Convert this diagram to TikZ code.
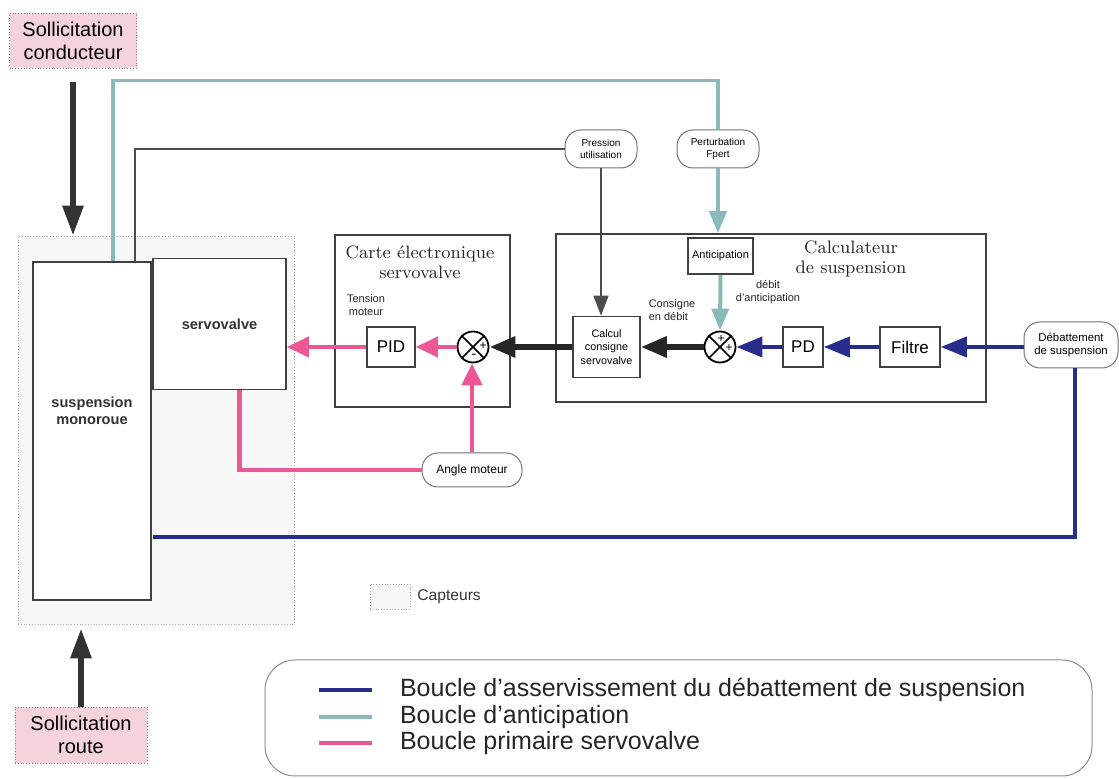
\documentclass[tikz,border=0pt]{standalone}
\usepackage{fontspec}
\setsansfont{Liberation Sans}
\renewcommand{\familydefault}{\sfdefault}
\usepackage{tikz}
\usetikzlibrary{arrows.meta}
\usepackage[dvipsnames]{xcolor}
\definecolor{boucle}{RGB}{40,44,138}
\definecolor{primaire}{RGB}{236,88,150}
\definecolor{antic}{RGB}{138,186,184}
\definecolor{sollic}{RGB}{244,212,218}

\begin{document}
\begin{tikzpicture}[x=0.5pt,y=-0.5pt]
  \tikzstyle{block}=[draw=black!75,line width=0.8pt,fill=white,inner sep=0pt,align=center]
  \tikzstyle{card box}=[draw=black!75,line width=0.8pt,inner sep=0pt]
  \tikzstyle{capsule}=[draw=black!55,line width=0.5pt,fill=white,rounded corners=8pt,inner sep=0pt,align=center,font=\fontsize{5}{6}\selectfont]
  \tikzstyle{sum node}=[circle,draw=black,line width=0.9pt,fill=white,minimum size=15.5pt,inner sep=0pt]
  \tikzset{
sollic box/.style={draw=black!50,densely dotted,fill=sollic,inner sep=0pt,align=center,font=\fontsize{10}{11.5}\selectfont},
capteur zone/.style={draw=black!35,densely dotted,fill=black!3,inner sep=0pt},
small text/.style={font=\fontsize{5.5}{6.5}\selectfont,align=center,text=black!85},
title text/.style={font=\rmfamily\fontsize{9}{10}\selectfont,align=center,text=black!85},
big arrow/.style={draw=black!80,line width=3pt,-{Triangle[length=15pt,width=10pt]}},
pink line/.style={draw=primaire,line width=2.2pt},
pink arrow/.style={pink line,-{Triangle[length=11pt,width=10pt]}},
blue line/.style={draw=boucle,line width=2pt},
blue arrow/.style={blue line,-{Triangle[length=13pt,width=10pt]}},
black arrow/.style={draw=black!85,line width=3pt,-{Triangle[length=13pt,width=10pt]}},
antic line/.style={draw=antic,line width=1.6pt},
antic arrow/.style={draw=antic,line width=2pt,-{Triangle[length=11pt,width=8.5pt]}},
thin line/.style={draw=black!70,line width=0.7pt},
thin arrow/.style={thin line,-{Triangle[length=10pt,width=7.5pt]}}
}
  \useasboundingbox (0,0) rectangle (1119,779);

  % sensors zone and mechanical part
  \node[capteur zone,minimum width=138pt,minimum height=194pt](capt) at (156,430) {};
  \node[block,minimum width=59pt,minimum height=169pt](susp) at (92,431) {};
  \node[font=\bfseries\fontsize{7.3}{8.5}\selectfont,align=center,text=black!80](susptxt) at (92,411) {suspension\\monoroue};
  \node[block,minimum width=66.5pt,minimum height=65.5pt,font=\bfseries\fontsize{7.3}{8.5}\selectfont,text=black!80](servo) at (219.5,324) {servovalve};

  \node[sollic box,minimum width=63.5pt,minimum height=27.5pt](soll1) at (73,40.5) {Sollicitation\\conducteur};
  \node[sollic box,minimum width=66pt,minimum height=28pt](soll2) at (81,735) {Sollicitation\\route};

  % servovalve board
  \node[card box,minimum width=87.5pt,minimum height=86pt](carte) at (422.5,321) {};
  \node[title text](cartetitle) at (420,262) {Carte électronique\\servovalve};
  \node[small text](tension) at (366,305) {Tension\\moteur};
  \node[block,minimum width=24pt,minimum height=20pt,font=\fontsize{8.5}{10}\selectfont](pid) at (391,347) {PID};
  \node[sum node](sum1) at (473,347) {};
  \node[capsule,minimum width=50pt,minimum height=17pt,font=\fontsize{6}{7}\selectfont](angle) at (472,470) {Angle moteur};

  % suspension computer
  \node[card box,minimum width=215pt,minimum height=84pt](calcfr) at (771,318) {};
  \node[title text](calctitle) at (851,259) {Calculateur\\de suspension};
  \node[block,minimum width=33.5pt,minimum height=30.5pt,font=\fontsize{5.4}{6.6}\selectfont](calc) at (606.5,347) {Calcul\\consigne\\servovalve};
  \node[small text,align=left](consigne) at (672,310) {Consigne\\en débit};
  \node[sum node](sum2) at (720,347) {};
  \node[block,minimum width=32.5pt,minimum height=18pt,font=\fontsize{5.5}{6.5}\selectfont](antic) at (720.5,256) {Anticipation};
  \node[small text](debit) at (768,292) {débit\\d'anticipation};
  \node[block,minimum width=20pt,minimum height=20pt,font=\fontsize{8.5}{10}\selectfont](pd) at (803,347) {PD};
  \node[block,minimum width=30pt,minimum height=20pt,font=\fontsize{8.5}{10}\selectfont](filtre) at (910,347) {Filtre};

  \node[capsule,minimum width=47pt,minimum height=23pt,font=\fontsize{5.7}{6.8}\selectfont](debat) at (1071,345) {Débattement\\de suspension};
  \node[capsule,minimum width=36pt,minimum height=19pt](pression) at (601,149) {Pression\\utilisation};
  \node[capsule,minimum width=41pt,minimum height=19pt](perturb) at (718,149) {Perturbation\\Fpert};

  % crosses and signs of the comparators
  \foreach \s in {sum1,sum2}{
    \draw[line width=0.8pt] (\s.north west) -- (\s.south east);
    \draw[line width=0.8pt] (\s.north east) -- (\s.south west);
  }
  \node[font=\fontsize{6}{6}\selectfont](s1p) at ([shift={(10,-1)}]sum1.center) {+};
  \node[font=\fontsize{7}{7}\selectfont](s1m) at ([shift={(1,9)}]sum1.center) {-};
  \node[font=\fontsize{6}{6}\selectfont](s2a) at ([shift={(1,-8)}]sum2.center) {+};
  \node[font=\fontsize{6}{6}\selectfont](s2b) at ([shift={(9,1)}]sum2.center) {+};

  % external solicitations
  \draw[big arrow,shorten <=7pt] (soll1.south) -- (soll1.south |- capt.north);
  \draw[big arrow] (soll2.north) -- ([yshift=-2pt]soll2.north |- capt.south);

  % primary servovalve loop
  \draw[pink arrow] (sum1.west) -- (pid.east);
  \draw[pink arrow] (pid.west) -- (pid.west -| servo.east);
  \draw[pink line] ([xshift=10pt]servo.south) |- (angle.west);
  \draw[pink arrow] (angle.north) -- (angle.north |- sum1.south);

  % suspension travel loop
  \coordinate (loopend) at (153,537);
  \draw[blue arrow] (debat.west |- filtre) -- (filtre.east);
  \draw[blue arrow] (filtre.west) -- (pd.east);
  \draw[blue arrow] (pd.west) -- (sum2.east);
  \draw[blue line] ([xshift=2pt]debat.south) |- (loopend);
  \draw[black arrow] (sum2.west) -- (sum2 -| calc.east);
  \draw[black arrow] (sum1.east -| calc.west) -- (sum1.east);

  % anticipation loop
  \draw[antic line] ([xshift=10.5pt]susp.north) -- ++(0,-181) -| (perturb.north);
  \draw[antic arrow] (perturb.south) -- (perturb.south |- calcfr.north);
  \draw[antic arrow] (antic.south) -- (sum2.north);

  % pressure measurement
  \draw[thin line] ([xshift=21.5pt]susp.north) |- (pression.west);
  \draw[thin arrow] (pression.south) -- (pression.south |- calc.north);

  % legend
  \node[capteur zone,minimum width=20pt,minimum height=12.5pt](swatch) at (390,596.5) {};
  \node[anchor=west,font=\fontsize{7.8}{9}\selectfont,text=black!80](capteurs) at (swatch.east) {Capteurs};
  \node[draw=black!45,line width=0.5pt,rounded corners=15pt,minimum width=413.5pt,minimum height=58pt](legend) at (678.5,718) {};
  \draw[blue line,line width=2.2pt] (319,690) -- (372,690);
  \draw[antic line,line width=1.8pt] (319,717) -- (372,717);
  \draw[pink line] (319,743) -- (372,743);
  \node[anchor=west,font=\fontsize{12.5}{14}\selectfont,text=black!85](leg1) at (393,690) {Boucle d'asservissement du débattement de suspension};
  \node[anchor=west,font=\fontsize{12.5}{14}\selectfont,text=black!85](leg2) at (393,717) {Boucle d'anticipation};
  \node[anchor=west,font=\fontsize{12.5}{14}\selectfont,text=black!85](leg3) at (393,743) {Boucle primaire servovalve};
\end{tikzpicture}
\end{document}
